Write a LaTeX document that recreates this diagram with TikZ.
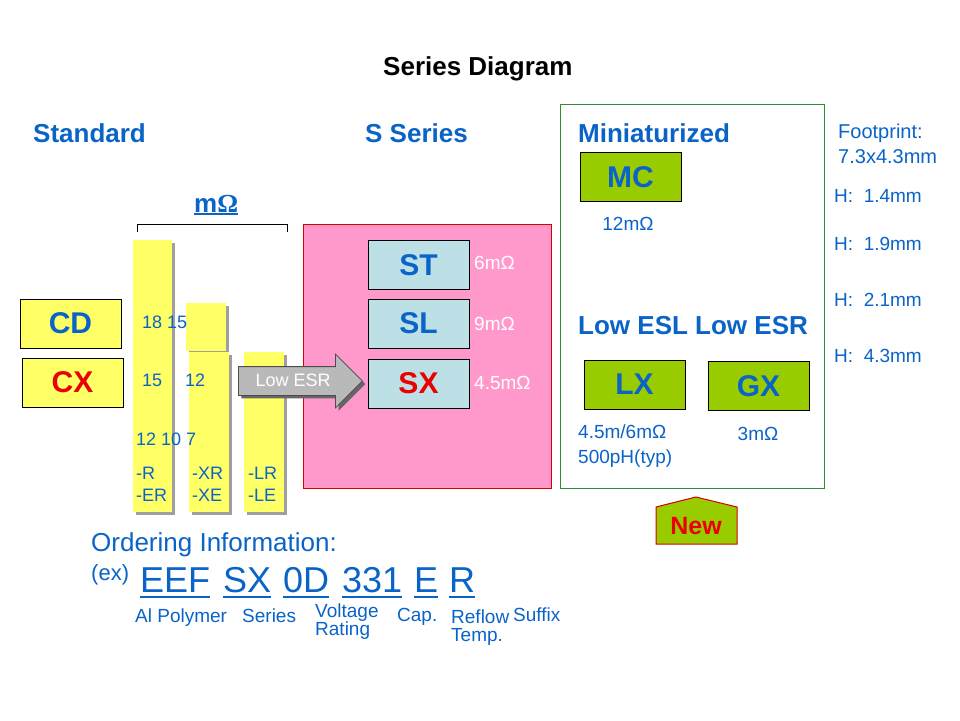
\documentclass[tikz,border=0pt]{standalone}
\usepackage{fontspec}
\setmainfont{Liberation Sans}
\newfontfamily\ohmfont{Liberation Serif}
\usetikzlibrary{shadows,shapes.arrows,positioning}
\definecolor{kblue}{RGB}{10,100,200}
\definecolor{kred}{RGB}{235,0,0}
\definecolor{kyellow}{RGB}{255,255,102}
\definecolor{kgreen}{RGB}{153,204,0}
\definecolor{kpink}{RGB}{255,153,204}
\definecolor{kcyan}{RGB}{188,224,230}
\definecolor{kframe}{RGB}{51,140,51}
\tikzstyle{heading}=[font=\fontsize{26}{30}\selectfont\bfseries,text=kblue,inner sep=0pt,anchor=base west]
\tikzstyle{note}=[font=\fontsize{19}{22}\selectfont,text=kblue,inner sep=0pt,anchor=base west]
\tikzstyle{barnote}=[font=\fontsize{18}{21}\selectfont,text=kblue,inner sep=0pt,anchor=base west]
\tikzstyle{series}=[draw=black,line width=1pt,minimum width=101pt,minimum height=49pt,
    font=\fontsize{30}{34}\selectfont\bfseries,text=kblue]
\tikzstyle{bar}=[fill=kyellow,drop shadow={shadow xshift=3pt,shadow yshift=-3pt,fill=gray!75,opacity=1}]
\tikzstyle{code}=[font=\fontsize{36}{40}\selectfont,text=kblue,inner sep=0pt,anchor=base west]

\begin{document}
\begin{tikzpicture}[x=1pt,y=-1pt]
\useasboundingbox[fill=white] (0,0) rectangle (960,720);
%headings
\node[heading,text=black] (title) at (383,75) {Series Diagram};
\node[heading] (standard) at (33,142) {Standard};
\node[heading] (sseries) at (365,142) {S Series};
\node[heading] (mini) at (578,142) {Miniaturized};
\node[heading] (lowesl) at (578,334) {Low ESL Low ESR};
%footprint and heights
\node[note,font=\fontsize{20}{24}\selectfont] (foot) at (838,138) {Footprint:};
\node[note,font=\fontsize{20}{24}\selectfont] (footsize) at (838,163) {7.3x4.3mm};
\node[note] (h1) at (834,202) {H:\ \ 1.4mm};
\node[note] (h2) at (834,250) {H:\ \ 1.9mm};
\node[note] (h3) at (834,306) {H:\ \ 2.1mm};
\node[note] (h4) at (834,362) {H:\ \ 4.3mm};
%standard bars
\node[heading] (mohm) at (194,212) {m{\ohmfont\bfseries Ω}};
\draw[kblue,line width=1.5pt] ([yshift=-2pt]mohm.south west) -- ([yshift=-2pt]mohm.south east);
\draw[line width=1pt] (137,232) -- (137,224) -- (287,224) -- (287,232);
\path[bar] (133,240) rectangle (172,512);
\path[bar] (186,303) rectangle (226,351);
\path[bar] (189,352) rectangle (229,512);
\path[bar] (244,352) rectangle (284,512);
\node[barnote] (r1) at (142,328) {18 15};
\node[barnote] (r2) at (142,386) {15};
\node[barnote] (r3) at (185,386) {12};
\node[barnote] (r4) at (136,445) {12 10 7};
\node[barnote] (sr) at (136,479) {-R};
\node[barnote] (ser) at (136,501) {-ER};
\node[barnote] (sxr) at (192,479) {-XR};
\node[barnote] (sxe) at (192,501) {-XE};
\node[barnote] (slr) at (248,479) {-LR};
\node[barnote] (sle) at (248,501) {-LE};
\node[series,fill=kyellow] (cd) at (70.5,323.5) {CD};
\node[series,fill=kyellow,text=kred] (cx) at (72.5,382.5) {CX};
%S series
\draw[red!85!black,fill=kpink] (303,224) rectangle (551,488);
\node[series,fill=kcyan] (st) at (418.5,265) {ST};
\node[series,fill=kcyan] (sl) at (418.5,323.5) {SL};
\node[series,fill=kcyan,text=kred] (sx) at (418.5,383.5) {SX};
\node[note,text=white] (stval) at (474,269) {6mΩ};
\node[note,text=white] (slval) at (474,330) {9mΩ};
\node[note,text=white] (sxval) at (474,389) {4.5mΩ};
\node[single arrow,draw=black!70,fill=gray!55,line width=0.8pt,
    minimum height=124pt,minimum width=53pt,single arrow head extend=12.5pt,
    inner ysep=0pt,inner xsep=6pt,anchor=tail,
    drop shadow={shadow xshift=3pt,shadow yshift=-3pt,fill=gray!80!black,opacity=1},
    font=\fontsize{18}{21}\selectfont,text=white,text height=19pt,text depth=9pt] (esr) at (238,381) {Low ESR};
%miniaturized
\draw[kframe,line width=1pt] (560,104) rectangle (824,488);
\node[series,fill=kgreen] (mc) at (630.5,177) {MC};
\node[series,fill=kgreen] (lx) at (634.5,384.5) {LX};
\node[series,fill=kgreen] (gx) at (758.5,386) {GX};
\node[note,anchor=base] (mcval) at (628,230) {12mΩ};
\node[note] (lxval) at (578,438) {4.5m/6mΩ};
\node[note] (lxesl) at (578,463) {500pH(typ)};
\node[note,anchor=base] (gxval) at (758,440) {3mΩ};
\draw[red!85!black,fill=kgreen,line width=1pt] (656,544) -- (656,507) -- (696,497) -- (737,507) -- (737,544) -- cycle;
\node[heading,anchor=center,text=kred,font=\fontsize{25}{30}\selectfont\bfseries] (new) at (696,526) {New};
%ordering information
\node[note,font=\fontsize{26}{30}\selectfont] (order) at (91,551) {Ordering Information:};
\node[note,font=\fontsize{22}{26}\selectfont] (ex) at (91,580) {(ex)};
\node[code] (c1) at (140,592) {EEF};
\node[code] (c2) at (223,592) {SX};
\node[code] (c3) at (283,592) {0D};
\node[code] (c4) at (342,592) {331};
\node[code] (c5) at (414,592) {E};
\node[code] (c6) at (449,592) {R};
\foreach \c in {c1,c2,c3,c4,c5,c6}
  \draw[kblue,line width=2pt] ([yshift=-4.5pt]\c.south west) -- ([yshift=-4.5pt]\c.south east);
\node[note] (l1) at (135,622) {Al Polymer};
\node[note] (l2) at (242,622) {Series};
\node[note] (l3) at (315,617) {Voltage};
\node[note] (l3b) at (315,635) {Rating};
\node[note] (l4) at (397,621) {Cap.};
\node[note] (l5) at (451,623) {Reflow};
\node[note] (l5b) at (451,641) {Temp.};
\node[note] (l6) at (513,621) {Suffix};
\end{tikzpicture}
\end{document}
